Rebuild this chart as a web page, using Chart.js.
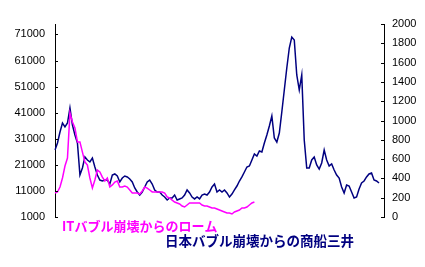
<!DOCTYPE html>
<html>
<head>
<meta charset="utf-8">
<script src="https://cdn.jsdelivr.net/npm/chart.js@4/dist/chart.umd.min.js"></script>
<style>
    body { margin: 0; background: #ffffff; }
    #wrap { width: 425px; height: 267px; }
</style>
</head>
<body>
<div id="wrap"><canvas id="chart" width="425" height="267"></canvas></div>
<script>
// 商船三井 (right axis, yen)
const mitsuiValues = [
    694, 767, 881, 974, 933, 974, 1130, 953, 850, 767,
    435, 508, 622, 591, 570, 611, 518, 435, 383, 373,
    383, 383, 342, 435, 446, 425, 363, 404, 425, 415,
    394, 363, 301, 259, 228, 259, 311, 363, 383, 342,
    280, 259, 259, 228, 207, 176, 197, 197, 228, 176,
    187, 197, 228, 280, 249, 207, 187, 207, 187, 228,
    238, 228, 259, 311, 342, 259, 280, 259, 280, 249,
    207, 238, 280, 321, 373, 415, 466, 518, 529, 591,
    653, 632, 684, 674, 767, 850, 943, 1047, 819, 777,
    870, 1088, 1316, 1544, 1751, 1865, 1834, 1472, 1316, 1472,
    798, 508, 508, 591, 622, 539, 497, 560, 694, 591,
    529, 549, 487, 435, 404, 311, 249, 332, 321, 259,
    197, 207, 290, 352, 373, 415, 446, 456, 383, 373,
    352
];

// ローム (left axis, yen)
const rohmValues = [
    10200, 10600, 12500, 15950, 20550, 23600, 40900, 37400, 35100, 29800,
    29800, 25900, 22100, 20900, 15950, 12100, 15200, 19000, 18250, 16300,
    14800, 15950, 12500, 13300, 14400, 14800, 12500, 12500, 12900, 12500,
    11350, 10200, 10200, 10200, 9800, 10970, 12500, 12100, 11350, 10600,
    10600, 10600, 10600, 10600, 10200, 8670, 8290, 7500, 6750, 6370,
    5980, 5220, 4830, 5600, 6370, 6370, 6370, 6370, 6370, 5600,
    5220, 5220, 4830, 4450, 4450, 4070, 3680, 3300, 2920, 2530,
    2530, 2150, 2920, 3300, 3680, 4450, 4450, 4830, 5600, 6370,
    6750
];

const leftTicks = [1000, 11000, 21000, 31000, 41000, 51000, 61000, 71000];
const rightTicks = [0, 200, 400, 600, 800, 1000, 1200, 1400, 1600, 1800, 2000];

const rohmLabel = 'ITバブル崩壊からのローム';
const mitsuiLabel = '日本バブル崩壊からの商船三井';

// one slot per sample, plus a little room on the right
const periods = [];
for (let i = 0; i < mitsuiValues.length + 2; i++) periods.push(i);

// inward tick marks and the two captions
const decorPlugin = {
    id: 'decor',
    afterDraw(chart) {
        const ctx = chart.ctx;
        const area = chart.chartArea;
        ctx.save();
        ctx.strokeStyle = '#000000';
        ctx.lineWidth = 1;
        ctx.beginPath();
        const yl = chart.scales.yLeft;
        leftTicks.forEach(v => {
            const y = Math.round(yl.getPixelForValue(v)) + 0.5;
            ctx.moveTo(area.left, y);
            ctx.lineTo(area.left + 3, y);
        });
        const yr = chart.scales.yRight;
        rightTicks.forEach(v => {
            const y = Math.round(yr.getPixelForValue(v)) + 0.5;
            ctx.moveTo(area.right, y);
            ctx.lineTo(area.right - 3, y);
        });
        ctx.stroke();

        ctx.textBaseline = 'middle';
        ctx.textAlign = 'left';
        ctx.font = 'bold 13px "Noto Sans CJK JP"';
        ctx.fillStyle = '#ff00ff';
        ctx.fillText(rohmLabel, 62, 226);
        ctx.font = 'bold 13.5px "Noto Sans CJK JP"';
        ctx.fillStyle = '#000080';
        ctx.fillText(mitsuiLabel, 165, 240.5);
        ctx.restore();
    }
};

const ctx = document.getElementById('chart').getContext('2d');
new Chart(ctx, {
    type: 'line',
    data: {
        labels: periods,
        datasets: [
            {
                label: rohmLabel,
                data: rohmValues,
                yAxisID: 'yLeft',
                borderColor: '#ff00ff',
                borderWidth: 1.5,
                pointRadius: 0,
                tension: 0,
                order: 0
            },
            {
                label: mitsuiLabel,
                data: mitsuiValues,
                yAxisID: 'yRight',
                borderColor: '#000080',
                borderWidth: 1.5,
                pointRadius: 0,
                tension: 0,
                order: 1
            }
        ]
    },
    options: {
        responsive: false,
        animation: false,
        devicePixelRatio: 1,
        layout: { padding: { top: 24, bottom: 50, left: 0, right: 0 } },
        plugins: {
            legend: { display: false },
            tooltip: { enabled: false }
        },
        scales: {
            x: {
                display: false,
                offset: false
            },
            yLeft: {
                position: 'left',
                min: 1000,
                max: 75000,
                afterBuildTicks: scale => { scale.ticks = leftTicks.map(v => ({ value: v })); },
                afterFit: scale => { scale.width = 55; },
                grid: { drawOnChartArea: false, drawTicks: false },
                border: { display: true, color: '#000000', width: 1 },
                ticks: {
                    color: '#000000',
                    padding: 10,
                    callback: v => String(v),
                    font: { family: '"Liberation Sans", Arial', size: 11 }
                }
            },
            yRight: {
                position: 'right',
                min: 0,
                max: 2000,
                afterBuildTicks: scale => { scale.ticks = rightTicks.map(v => ({ value: v })); },
                afterFit: scale => { scale.width = 41; },
                grid: { drawOnChartArea: false, drawTicks: false },
                border: { display: true, color: '#000000', width: 1 },
                ticks: {
                    color: '#000000',
                    padding: 8,
                    callback: v => String(v),
                    font: { family: '"Liberation Sans", Arial', size: 11 }
                }
            }
        }
    },
    plugins: [decorPlugin]
});
</script>
</body>
</html>
